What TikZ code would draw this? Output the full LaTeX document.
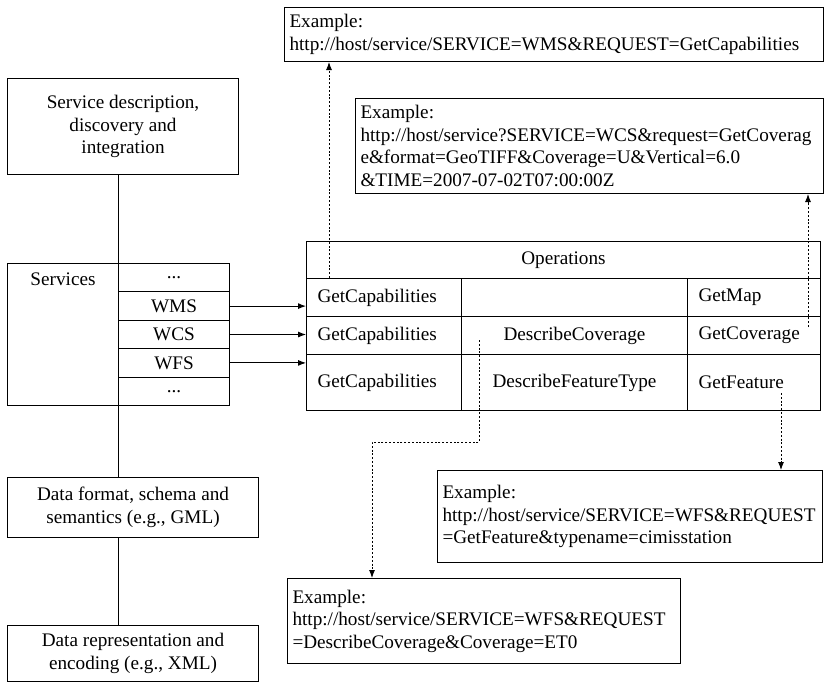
\documentclass[tikz,border=0pt]{standalone}
\usepackage{fontspec}
\setmainfont{Liberation Serif}
\usetikzlibrary{arrows.meta}
\tikzset{
  box/.style={draw, line width=1pt, inner sep=0pt, font=\fontsize{19.2}{22.5}\selectfont},
  cell/.style={box, anchor=north west, minimum height=#1},
  lcell/.style={cell=#1, align=left, inner xsep=11pt},
  example/.style={box, anchor=north west, align=left, inner xsep=5pt},
  link/.style={line width=0.9pt, -{Latex[length=8pt,width=6pt]}},
  dotlink/.style={link, dash pattern=on 2pt off 1.8pt},
}
\begin{document}
\begin{tikzpicture}[x=1pt,y=-1pt]
\useasboundingbox (0,0) rectangle (824,686);
% left stack
\node[cell=96pt, minimum width=231pt, align=center] (desc) at (7,78)
  {Service description,\\ discovery and\\ integration};
\node[cell=142pt, minimum width=111pt] (svc) at (7,263) {};
\node[box, draw=none, below=9pt] (svclabel) at (svc.north) {Services};
\node[cell=28.4pt, minimum width=111pt] (dots1) at (118,263) {...};
\node[cell=28.4pt, minimum width=111pt] (wms) at (118,291.4) {WMS};
\node[cell=28.4pt, minimum width=111pt] (wcs) at (118,319.8) {WCS};
\node[cell=28.4pt, minimum width=111pt] (wfs) at (118,348.2) {WFS};
\node[cell=28.4pt, minimum width=111pt] (dots2) at (118,376.6) {...};
\node[cell=60pt, minimum width=251pt, align=center] (fmt) at (7,477)
  {Data format, schema and\\ semantics (e.g., GML)};
\node[cell=56pt, minimum width=251pt, align=center] (rep) at (7,625)
  {Data representation and\\ encoding (e.g., XML)};
\draw[line width=0.8pt] (desc.south -| dots1.west) -- (dots1.north west);
\draw[line width=0.8pt] (dots2.south west) -- (fmt.north -| dots2.west);
\draw[line width=0.8pt] (fmt.south -| dots2.west) -- (rep.north -| dots2.west);

% operations table
\node[cell=37pt, minimum width=514pt] (ops) at (306,241) {Operations};
\node[lcell=38pt, text width=133pt] (gc1) at (306,278) {GetCapabilities};
\node[cell=38pt, minimum width=226pt] (mid1) at (461,278) {};
\node[lcell=38pt, text width=111pt] (getmap) at (687,278) {GetMap};
\node[lcell=38pt, text width=133pt] (gc2) at (306,316) {GetCapabilities};
\node[cell=38pt, minimum width=226pt] (desccov) at (461,316) {DescribeCoverage};
\node[lcell=38pt, text width=111pt] (getcov) at (687,316) {GetCoverage};
\node[lcell=56pt, text width=133pt] (gc3) at (306,354) {GetCapabilities};
\node[cell=56pt, minimum width=226pt] (descft) at (461,354) {DescribeFeatureType};
\node[lcell=56pt, text width=111pt] (getfeat) at (687,354) {GetFeature};

\draw[link] (wms.east) -- (wms.east -| gc1.west);
\draw[link] (wcs.east) -- (wcs.east -| gc2.west);
\draw[link] (wfs.east) -- (wfs.east -| gc3.west);

% examples
\node[example, minimum height=54pt, text width=529pt] (exwms) at (284,7)
  {Example:\\ http://host/service/SERVICE=WMS\&REQUEST=GetCapabilities};
\node[example, minimum height=95pt, text width=458pt] (exwcs) at (355,98)
  {Example:\\ http://host/service?SERVICE=WCS\&request=GetCoverag\\
   e\&format=GeoTIFF\&Coverage=U\&Vertical=6.0\\ \&TIME=2007-07-02T07:00:00Z};
\node[example, minimum height=92pt, text width=375pt] (exwfs) at (437,470)
  {Example:\\ http://host/service/SERVICE=WFS\&REQUEST\\ =GetFeature\&typename=cimisstation};
\node[example, minimum height=85pt, text width=383pt] (exdc) at (287,578)
  {Example:\\ http://host/service/SERVICE=WFS\&REQUEST\\ =DescribeCoverage\&Coverage=ET0};

\coordinate (fromgc) at (329,278);
\coordinate (fromcov) at (808,327);
\coordinate (fromdc) at (479,340);
\coordinate (bend) at (372,442);
\coordinate (fromft) at (781,393);
\draw[dotlink] (fromgc) -- (fromgc |- exwms.south);
\draw[dotlink] (fromcov) -- (fromcov |- exwcs.south);
\draw[dotlink] (fromdc) |- (bend) -- (bend |- exdc.north);
\draw[dotlink] (fromft) -- (fromft |- exwfs.north);
\end{tikzpicture}
\end{document}
